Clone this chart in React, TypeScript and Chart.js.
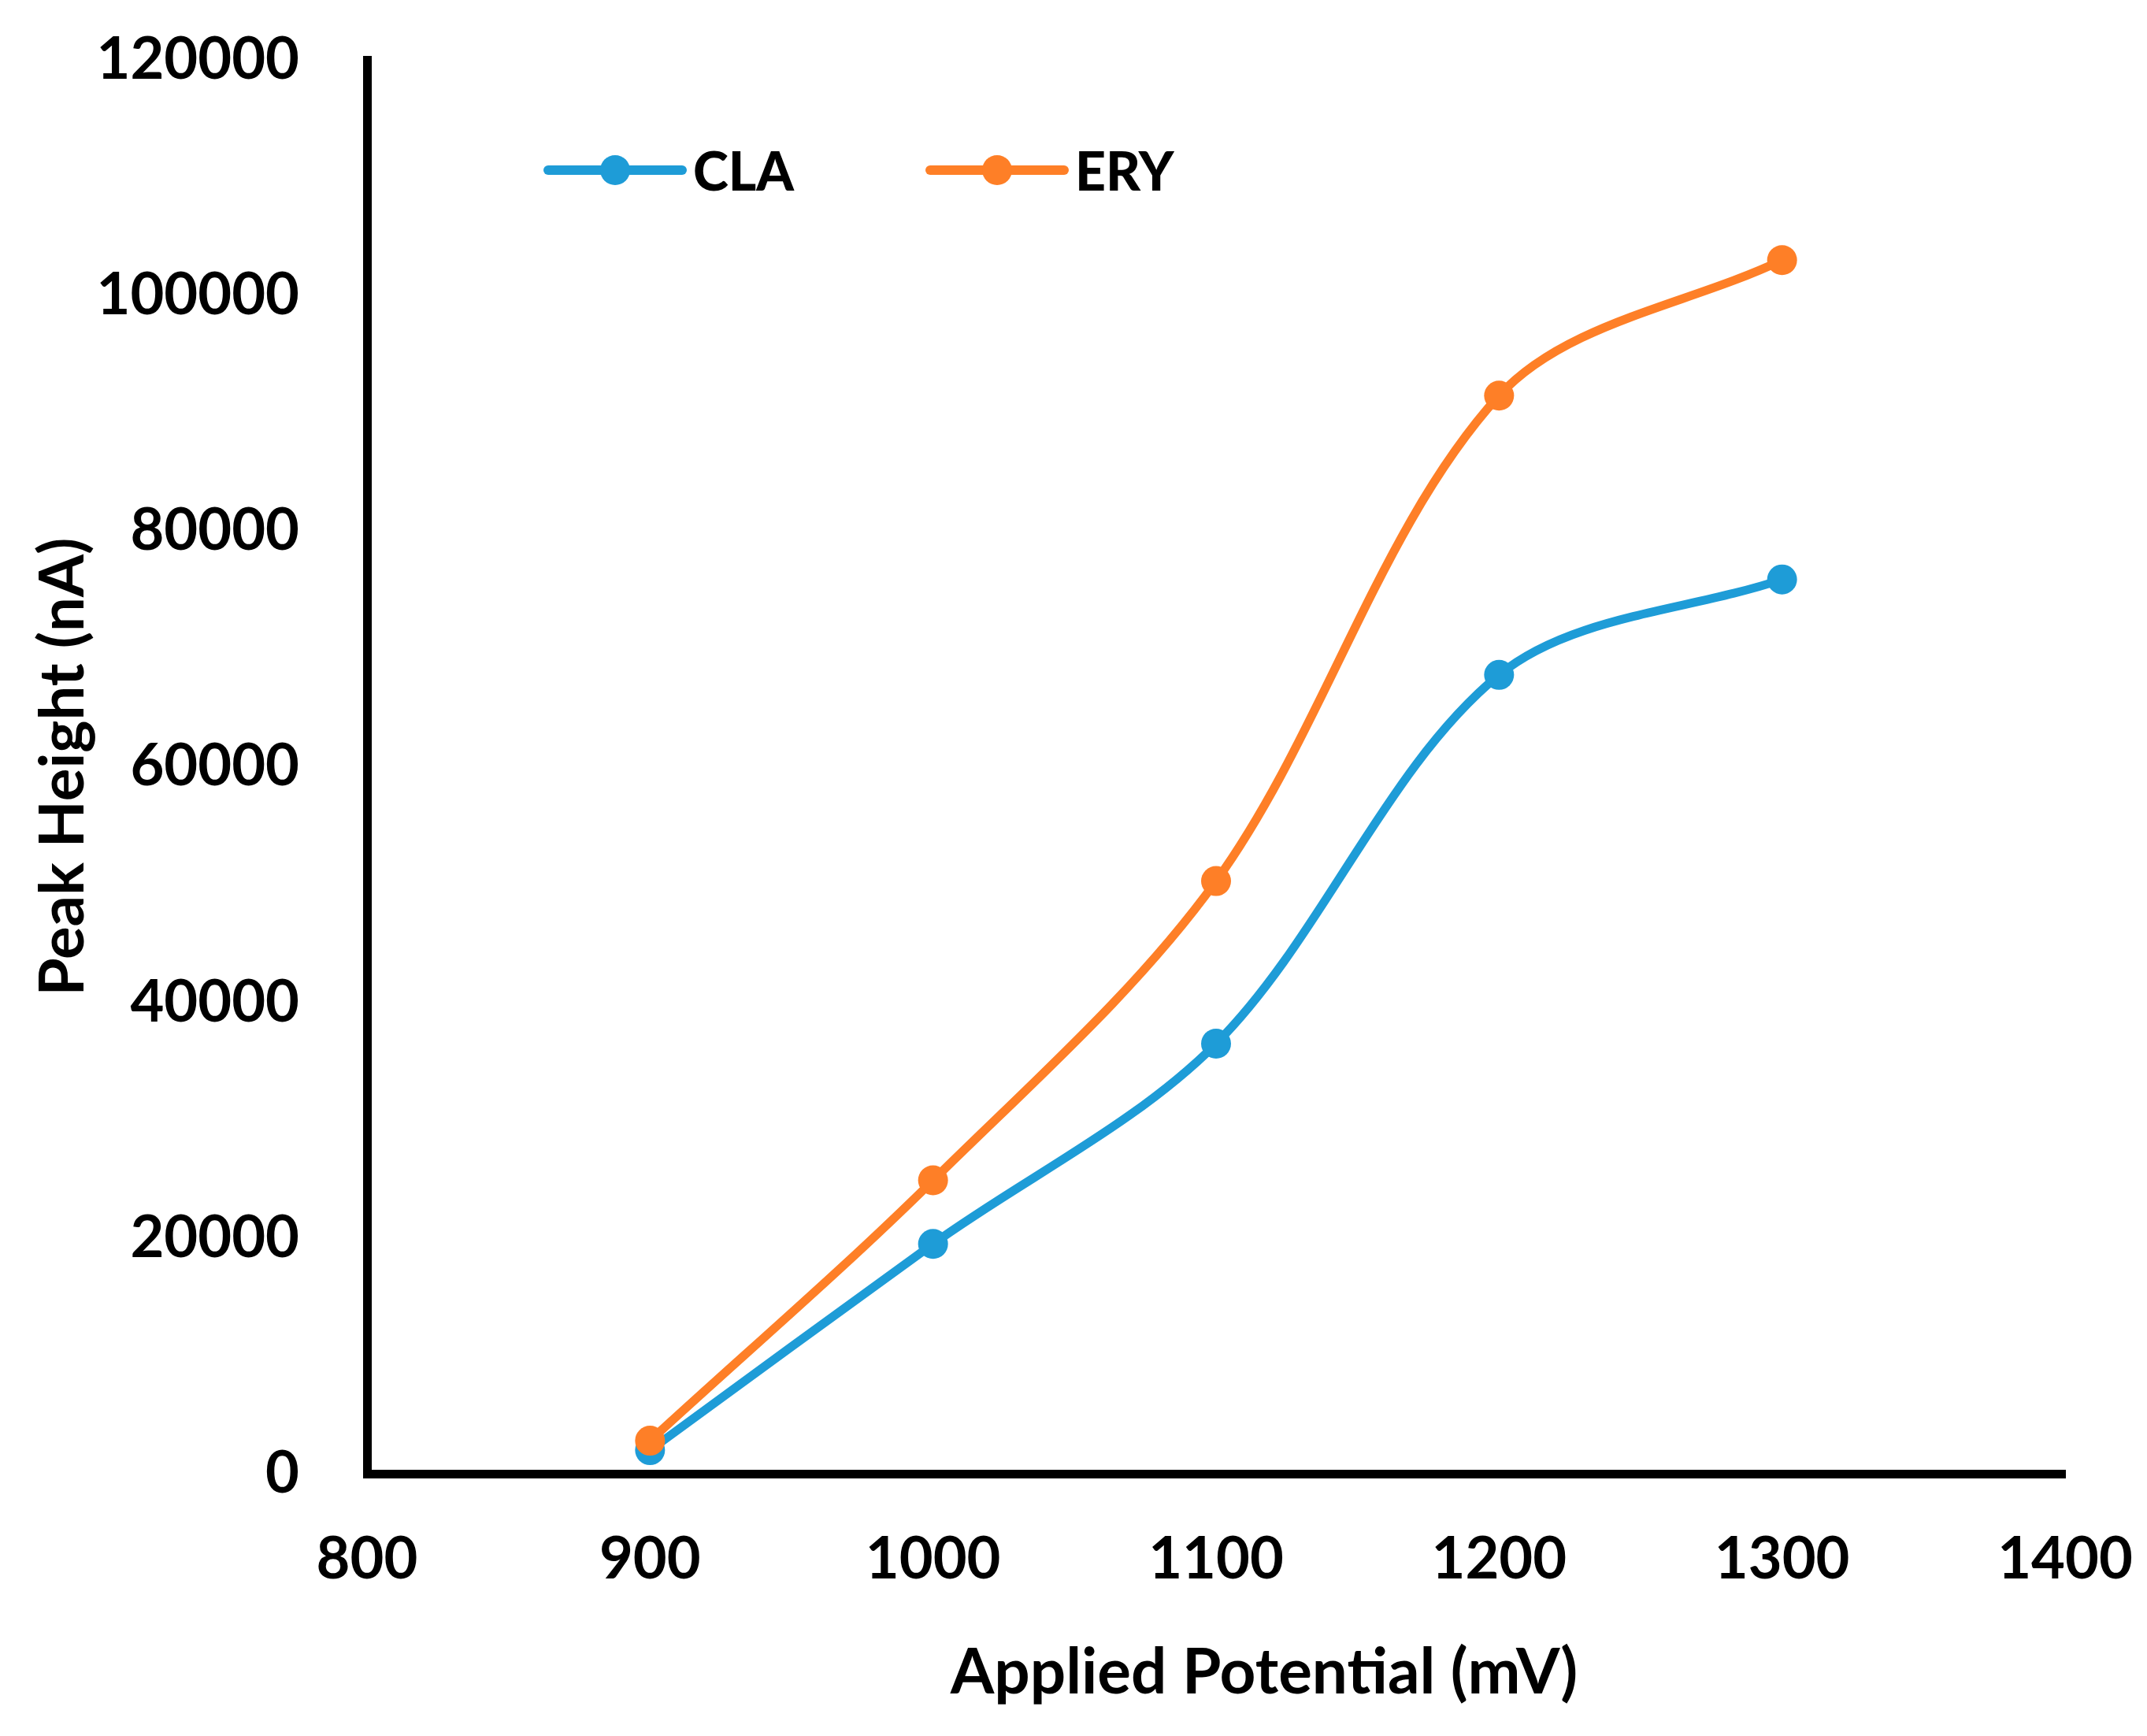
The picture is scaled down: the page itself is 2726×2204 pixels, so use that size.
import { useEffect, useRef } from "react";
import { Chart, registerables } from "chart.js";

Chart.register(...registerables);

// values
const potentials = [900, 1000, 1100, 1200, 1300];
const claHeights = [2000, 19500, 36500, 67800, 75900];
const eryHeights = [2800, 24900, 50300, 91500, 103000];
const xTicks = [800, 900, 1000, 1100, 1200, 1300, 1400];
const yTicks = [0, 20000, 40000, 60000, 80000, 100000, 120000];

const X_TITLE = "Applied Potential (mV)";
const Y_TITLE = "Peak Height (nA)";

const BLUE = "#1E9CD7";
const ORANGE = "#FE7F27";
const FONT = "Lato, 'Open Sans', sans-serif";

// legend drawn inside the plot area, and the x title sits a bit right of centre, like the Excel original
const insideLegend = {
  id: "insideLegend",
  afterDraw(chart: Chart) {
    const { ctx, chartArea } = chart;
    const y = chartArea.top + 140;
    const starts = [chartArea.left + 230, chartArea.left + 715];
    chart.data.datasets.forEach((ds: any, i: number) => {
      const x0 = starts[i];
      ctx.save();
      ctx.strokeStyle = ds.borderColor;
      ctx.lineWidth = 12;
      ctx.lineCap = "round";
      ctx.beginPath();
      ctx.moveTo(x0, y);
      ctx.lineTo(x0 + 170, y);
      ctx.stroke();
      ctx.fillStyle = ds.borderColor;
      ctx.beginPath();
      ctx.arc(x0 + 85, y, 19, 0, Math.PI * 2);
      ctx.fill();
      ctx.fillStyle = "#000";
      ctx.font = `900 68px ${FONT}`;
      ctx.textBaseline = "alphabetic";
      ctx.fillText(ds.label, x0 + 184, y + 26);
      ctx.restore();
    });

    // x axis title
    ctx.save();
    ctx.fillStyle = "#000";
    ctx.font = `bold 80px ${FONT}`;
    ctx.textAlign = "center";
    ctx.textBaseline = "middle";
    ctx.fillText(X_TITLE, (chartArea.left + chartArea.right) / 2 + 61, chartArea.bottom + 253);
    ctx.restore();
  },
};

export default function App() {
  const canvasRef = useRef<HTMLCanvasElement>(null);

  useEffect(() => {
    const canvas = canvasRef.current;
    if (!canvas) return;

    const chart = new Chart(canvas, {
      type: "line",
      data: {
        datasets: [
          {
            label: "CLA",
            data: potentials.map((x, i) => ({ x, y: claHeights[i] })),
            borderColor: BLUE,
            backgroundColor: BLUE,
            pointBackgroundColor: BLUE,
            borderWidth: 11,
            pointRadius: 19,
            pointBorderWidth: 0,
            tension: 0.33,
            fill: false,
            order: 1,
          },
          {
            label: "ERY",
            data: potentials.map((x, i) => ({ x, y: eryHeights[i] })),
            borderColor: ORANGE,
            backgroundColor: ORANGE,
            pointBackgroundColor: ORANGE,
            borderWidth: 11,
            pointRadius: 19,
            pointBorderWidth: 0,
            tension: 0.33,
            fill: false,
            order: 0,
          },
        ],
      },
      options: {
        animation: false,
        responsive: true,
        maintainAspectRatio: false,
        events: [],
        layout: {
          padding: { top: 76, right: 104, bottom: 0, left: 0 },
        },
        plugins: {
          legend: { display: false },
          tooltip: { enabled: false },
        },
        scales: {
          x: {
            type: "linear",
            min: 800,
            max: 1400,
            grid: { display: false },
            border: { display: true, color: "#000", width: 11 },
            afterBuildTicks: (scale: any) => {
              scale.ticks = xTicks.map((v) => ({ value: v }));
            },
            afterFit: (scale: any) => {
              scale.height = 333;
              scale.paddingLeft = 0;
              scale.paddingRight = 0;
            },
            ticks: {
              color: "#000",
              padding: 57,
              font: { family: FONT, size: 74, weight: "bold" },
              callback: (v: any) => String(v),
            },
            title: { display: false },
          },
          y: {
            type: "linear",
            min: 0,
            max: 120000,
            grid: { display: false },
            border: { display: true, color: "#000", width: 11 },
            afterBuildTicks: (scale: any) => {
              scale.ticks = yTicks.map((v) => ({ value: v }));
            },
            afterFit: (scale: any) => {
              scale.width = 466;
              scale.paddingTop = 0;
              scale.paddingBottom = 0;
            },
            ticks: {
              color: "#000",
              padding: 78,
              font: { family: FONT, size: 74, weight: "bold" },
              callback: (v: any) => String(v),
            },
            title: {
              display: true,
              text: Y_TITLE,
              color: "#000",
              padding: { top: 34, bottom: 0 },
              font: { family: FONT, size: 78, weight: "bold" },
            },
          },
        },
      },
      plugins: [insideLegend],
    });

    return () => {
      chart.destroy();
    };
  }, []);

  return (
    <div
      style={{
        position: "absolute",
        left: 0,
        top: 0,
        width: 2726,
        height: 2204,
        background: "#fff",
      }}
    >
      <canvas ref={canvasRef}></canvas>
    </div>
  );
}
